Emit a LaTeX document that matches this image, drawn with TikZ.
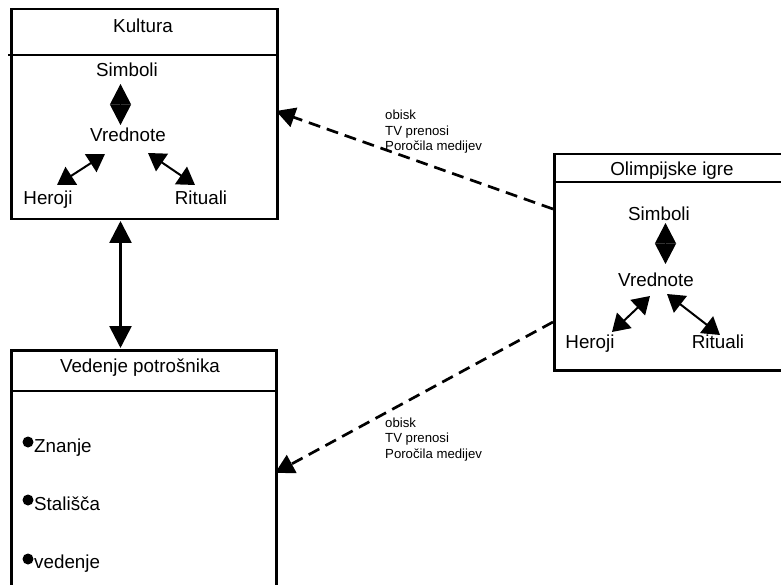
\documentclass[tikz,border=0pt]{standalone}
\usepackage{fontspec}
\setmainfont{Liberation Sans}
\usetikzlibrary{arrows.meta}
\begin{document}
\begin{tikzpicture}[x=1pt,y=-1pt,
  txt/.style={font=\fontsize{18.8}{21}\selectfont, inner sep=0pt, anchor=base},
  item/.style={font=\fontsize{18.8}{21}\selectfont, inner sep=0pt, anchor=base west},
  note/.style={font=\fontsize{13.2}{15.5}\selectfont, inner sep=0pt, align=left, anchor=base west},
  frame/.style={draw, line width=2.5pt, inner sep=0pt, anchor=north west},
  rule/.style={line width=1.7pt},
  twoway/.style={line width=2pt, {Triangle[length=17pt,width=21pt]}-{Triangle[length=17pt,width=21pt]}},
  pair/.style={line width=1pt, {Triangle[length=20.5pt,width=21pt]}-{Triangle[length=20.5pt,width=21pt]}},
  bigway/.style={line width=2.7pt, {Triangle[length=22pt,width=22pt]}-{Triangle[length=22pt,width=22pt]}},
  flow/.style={line width=2.7pt, dash pattern=on 12pt off 7pt, -{Triangle[length=19pt,width=20pt]}},
  dot/.style={circle, fill, inner sep=0pt, minimum size=11pt}
]
\useasboundingbox (0,0) rectangle (781,585);
\clip (0,0) rectangle (781,585);
\fill[white] (0,0) rectangle (781,585);

% --- Kultura ---------------------------------------------------------
\node[frame, minimum width=266pt, minimum height=210pt] (kult) at (10,8) {};
\coordinate (kl) at (8,55);
\coordinate (kr) at (276,55);
\draw[rule] (kl) -- (kr);
\node[txt] (kt) at (143,33) {Kultura};
\node[txt] (ks) at (127,77) {Simboli};
\node[txt] (kv) at (128,142) {Vrednote};
\node[txt] (kh) at (48,205) {Heroji};
\node[txt] (kr2) at (201,205) {Rituali};
\coordinate (ksa) at (120.5,84);
\coordinate (ksb) at (120.5,125);
\draw[pair] (ksa) -- (ksb);
\coordinate (kha) at (57,185);
\coordinate (khb) at (105,154);
\draw[twoway] (kha) -- (khb);
\coordinate (kra) at (148,153);
\coordinate (krb) at (195,185);
\draw[twoway] (kra) -- (krb);

% --- Olimpijske igre -------------------------------------------------
\node[frame, minimum width=240pt, minimum height=216pt] (oi) at (553,153) {};
\coordinate (ol) at (553,182);
\coordinate (or) at (795,182);
\draw[rule] (ol) -- (or);
\node[txt] (ot) at (672,176) {Olimpijske igre};
\node[txt] (os) at (659,221) {Simboli};
\node[txt] (ov) at (656,286) {Vrednote};
\node[txt] (oh) at (590,348) {Heroji};
\node[txt] (orr) at (718,348) {Rituali};
\coordinate (osa) at (665.5,223);
\coordinate (osb) at (665.5,264);
\draw[pair] (osa) -- (osb);
\coordinate (oha) at (612,332);
\coordinate (ohb) at (650,296);
\draw[twoway] (oha) -- (ohb);
\coordinate (ora) at (667,294);
\coordinate (orb) at (720,335);
\draw[twoway] (ora) -- (orb);

% --- Vedenje potrošnika ----------------------------------------------
\node[frame, minimum width=265pt, minimum height=260pt] (vp) at (10,349) {};
\coordinate (vl) at (10,391);
\coordinate (vr) at (275,391);
\draw[rule] (vl) -- (vr);
\node[txt] (vt) at (140,372) {Vedenje potrošnika};
\node[dot] (d1) at (28,442) {};
\node[item] (i1) at (34,452) {Znanje};
\node[dot] (d2) at (28,500) {};
\node[item] (i2) at (34,510) {Stališča};
\node[dot] (d3) at (28,559) {};
\node[item] (i3) at (34,568) {vedenje};

% --- connectors between the boxes -------------------------------------
\coordinate (kb) at (120.5,221);
\coordinate (vtop) at (120.5,348);
\draw[bigway] (kb) -- (vtop);

\coordinate (o1) at (553,209);
\coordinate (k1) at (276,111);
\draw[flow] (o1) -- (k1);
\coordinate (o2) at (553,322);
\coordinate (v2) at (275,473);
\draw[flow] (o2) -- (v2);

% labels: base anchor sits on the last line
\node[note] (n1) at (385,151) {obisk\\TV prenosi\\Poročila medijev};
\node[note] (n2) at (385,458) {obisk\\TV prenosi\\Poročila medijev};
\end{tikzpicture}
\end{document}
